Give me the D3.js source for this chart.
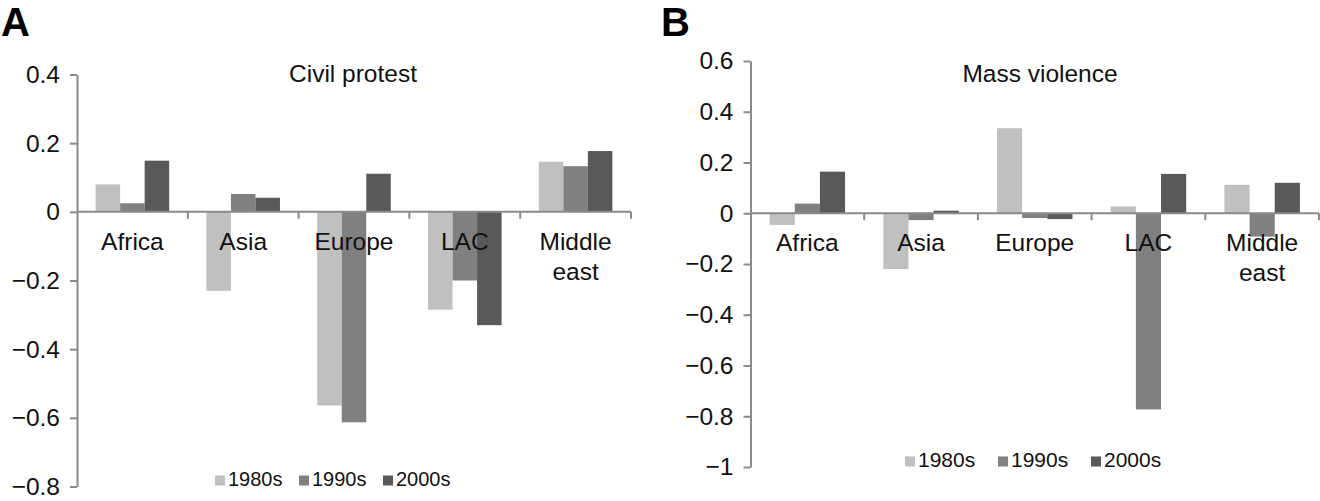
<!DOCTYPE html>
<html lang="en">
<head>
<meta charset="UTF-8">
<title>Civil protest and mass violence by region</title>
<script src="https://d3js.org/d3.v7.min.js"></script>
<style>
  body { margin: 0; background: #fff; }
  svg text { font-family: "Liberation Sans", Arial, Helvetica, sans-serif; fill: #111; }
</style>
</head>
<body>
<svg id="chart" width="1320" height="501"></svg>
<script>
// data
const regions = ["Africa", "Asia", "Europe", "LAC", "Middle east"];
const decades = ["1980s", "1990s", "2000s"];
const decadeColors = ["#c0c0c0", "#808080", "#595959"];

const civilProtest1980s = [0.080, -0.230, -0.564, -0.285, 0.146];
const civilProtest1990s = [0.025, 0.052, -0.613, -0.200, 0.133];
const civilProtest2000s = [0.149, 0.041, 0.111, -0.330, 0.177];
const civilTicks = [0.4, 0.2, 0, -0.2, -0.4, -0.6, -0.8];

const massViolence1980s = [-0.046, -0.220, 0.335, 0.027, 0.112];
const massViolence1990s = [0.038, -0.027, -0.019, -0.773, -0.092];
const massViolence2000s = [0.164, 0.010, -0.023, 0.155, 0.120];
const massTicks = [0.6, 0.4, 0.2, 0, -0.2, -0.4, -0.6, -0.8, -1];

const svg = d3.select("#chart");

const fmt = v => v === 0 ? "0" : (v < 0 ? "\u2212" : "") + Math.abs(v);

function drawPanel(opt) {
  const g = svg.append("g");

  // panel letter
  g.append("text")
    .attr("x", opt.letterX).attr("y", 36)
    .attr("font-size", 40).attr("font-weight", "bold")
    .style("fill", "#000")
    .text(opt.letter);

  const y = d3.scaleLinear().domain(opt.domain).range([opt.bottom, opt.top]);
  const x = d3.scaleBand().domain(regions).range([opt.left, opt.right]).padding(0);
  const xs = d3.scaleBand().domain(decades).range([0, x.bandwidth()])
    .paddingInner(0).paddingOuter(0.76);

  // bars
  const rows = regions.map((r, i) => ({
    region: r,
    values: opt.series.map((s, k) => ({ decade: decades[k], value: s[i] }))
  }));
  g.selectAll("g.grp").data(rows).join("g")
    .attr("class", "grp")
    .attr("transform", d => `translate(${x(d.region)},0)`)
    .selectAll("rect").data(d => d.values).join("rect")
    .attr("x", d => xs(d.decade))
    .attr("width", xs.bandwidth())
    .attr("y", d => y(Math.max(0, d.value)))
    .attr("height", d => Math.abs(y(d.value) - y(0)))
    .attr("fill", (d, k) => decadeColors[k]);

  // y axis
  const yAxis = g.append("g")
    .attr("transform", `translate(${opt.left},0)`)
    .call(d3.axisLeft(y).tickValues(opt.ticks).tickSize(7).tickSizeOuter(0)
      .tickPadding(10).tickFormat(fmt));
  yAxis.select(".domain").attr("stroke", "#8a8a8a").attr("stroke-width", 2);
  yAxis.selectAll(".tick line").attr("stroke", "#8a8a8a").attr("stroke-width", 2);
  yAxis.selectAll(".tick text")
    .attr("font-size", 24.5).attr("font-family", null)
    .style("fill", "#111");

  // category axis along zero
  const y0 = y(0);
  g.append("line")
    .attr("x1", opt.left).attr("x2", opt.right)
    .attr("y1", y0).attr("y2", y0)
    .attr("stroke", "#8a8a8a").attr("stroke-width", 2);
  const bounds = regions.map(r => x(r)).concat([x.range()[1]]).slice(1);
  g.selectAll("line.ct").data(bounds).join("line")
    .attr("class", "ct")
    .attr("x1", d => d).attr("x2", d => d)
    .attr("y1", y0).attr("y2", y0 + 7)
    .attr("stroke", "#8a8a8a").attr("stroke-width", 2);

  const labels = g.selectAll("text.cat").data(regions).join("text")
    .attr("class", "cat")
    .attr("x", d => x(d) + x.bandwidth() / 2)
    .attr("y", y0 + 38)
    .attr("text-anchor", "middle")
    .attr("font-size", 24.5);
  labels.selectAll("tspan").data(d => d.split(" ")).join("tspan")
    .attr("x", function () { return d3.select(this.parentNode).attr("x"); })
    .attr("dy", (d, i) => i === 0 ? 0 : 30)
    .text(d => d);

  // title
  g.append("text")
    .attr("x", opt.titleX).attr("y", 82)
    .attr("text-anchor", "middle")
    .attr("font-size", 24.5)
    .text(opt.title);

  // legend
  const lg = g.selectAll("g.leg").data(decades).join("g")
    .attr("class", "leg")
    .attr("transform", (d, i) => `translate(${opt.legendX + i * opt.legendStep},${opt.legendY})`);
  lg.append("rect")
    .attr("x", 0).attr("y", -10).attr("width", 10).attr("height", 10)
    .attr("fill", (d, i) => decadeColors[i]);
  lg.append("text")
    .attr("x", 13).attr("y", 0)
    .attr("font-size", opt.legendFont)
    .text(d => d);
}

drawPanel({
  letter: "A", letterX: 1,
  title: "Civil protest", titleX: 353,
  series: [civilProtest1980s, civilProtest1990s, civilProtest2000s],
  ticks: civilTicks, domain: [-0.8, 0.4],
  top: 74.5, bottom: 486.5, left: 77, right: 631,
  legendX: 215, legendY: 485.5, legendStep: 84, legendFont: 20
});

drawPanel({
  letter: "B", letterX: 661,
  title: "Mass violence", titleX: 1040,
  series: [massViolence1980s, massViolence1990s, massViolence2000s],
  ticks: massTicks, domain: [-1, 0.6],
  top: 61, bottom: 467, left: 750.5, right: 1319,
  legendX: 905, legendY: 466.5, legendStep: 93, legendFont: 21
});
</script>
</body>
</html>
